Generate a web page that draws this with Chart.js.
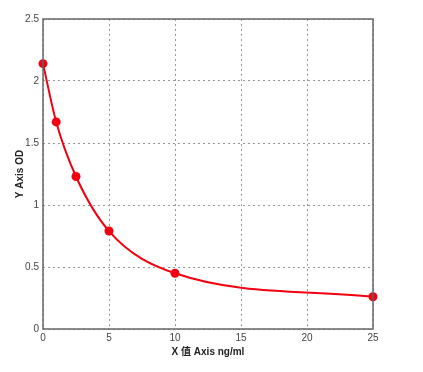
<!DOCTYPE html>
<html>
<head>
<meta charset="utf-8">
<script src="https://cdn.jsdelivr.net/npm/chart.js@4"></script>
<style>
  html, body { margin: 0; padding: 0; background: #fff; }
  #wrap { width: 423px; height: 372px; position: relative; }
</style>
</head>
<body>
<div id="wrap"><canvas id="c"></canvas></div>
<script>
// standard curve readings
const conc = [0, 1, 2.5, 5, 10, 25];
const od   = [2.14, 1.67, 1.23, 0.79, 0.45, 0.26];
const xTicks = [0, 5, 10, 15, 20, 25];
const yTicks = [0, 0.5, 1, 1.5, 2, 2.5];

const RED = "#f2000f";

// frame round the plot area
const framePlugin = {
  id: "frame",
  afterDraw(chart) {
    const a = chart.chartArea, ctx = chart.ctx;
    ctx.save();
    ctx.strokeStyle = "#666";
    ctx.lineWidth = 1.5;
    ctx.strokeRect(a.left, a.top, a.right - a.left, a.bottom - a.top);
    ctx.restore();
  }
};

new Chart(document.getElementById("c"), {
  type: "line",
  data: {
    datasets: [{
      data: conc.map((x, i) => ({ x, y: od[i] })),
      borderColor: RED,
      backgroundColor: RED,
      borderWidth: 2,
      pointRadius: 4.5,
      pointBackgroundColor: RED,
      pointBorderWidth: 0,
      cubicInterpolationMode: "monotone",
      clip: false
    }]
  },
  options: {
    responsive: true,
    maintainAspectRatio: false,
    animation: false,
    layout: { padding: { left: 14, right: 50, top: 19, bottom: 14 } },
    plugins: { legend: { display: false }, tooltip: { enabled: false } },
    scales: {
      x: {
        type: "linear", min: 0, max: 25,
        afterBuildTicks: s => { s.ticks = xTicks.map(v => ({ value: v })); },
        afterFit: s => { s.height = 29; },
        grid: { color: "#999", lineWidth: 1, drawTicks: false },
        border: { display: false, dash: [2, 3] },
        ticks: { color: "#444", font: { family: "Arial, Liberation Sans", size: 10 }, padding: 3, maxRotation: 0 },
        title: {
          display: true, text: "X 值 Axis ng/ml", color: "#222",
          font: { family: "Arial, Liberation Sans, Noto Sans CJK SC", size: 10, weight: "bold" },
          padding: { top: 0, bottom: 0 }
        }
      },
      y: {
        type: "linear", min: 0, max: 2.5,
        afterBuildTicks: s => { s.ticks = yTicks.map(v => ({ value: v })); },
        afterFit: s => { s.width = 29; },
        grid: { color: "#999", lineWidth: 1, drawTicks: false },
        border: { display: false, dash: [2, 3] },
        ticks: {
          color: "#444", font: { family: "Arial, Liberation Sans", size: 10 }, padding: 4,
          callback: v => String(v)
        },
        title: {
          display: true, text: "Y Axis OD", color: "#222",
          font: { family: "Arial, Liberation Sans", size: 10, weight: "bold" },
          padding: { top: 0, bottom: 0 }
        }
      }
    }
  },
  plugins: [framePlugin]
});
</script>
</body>
</html>
